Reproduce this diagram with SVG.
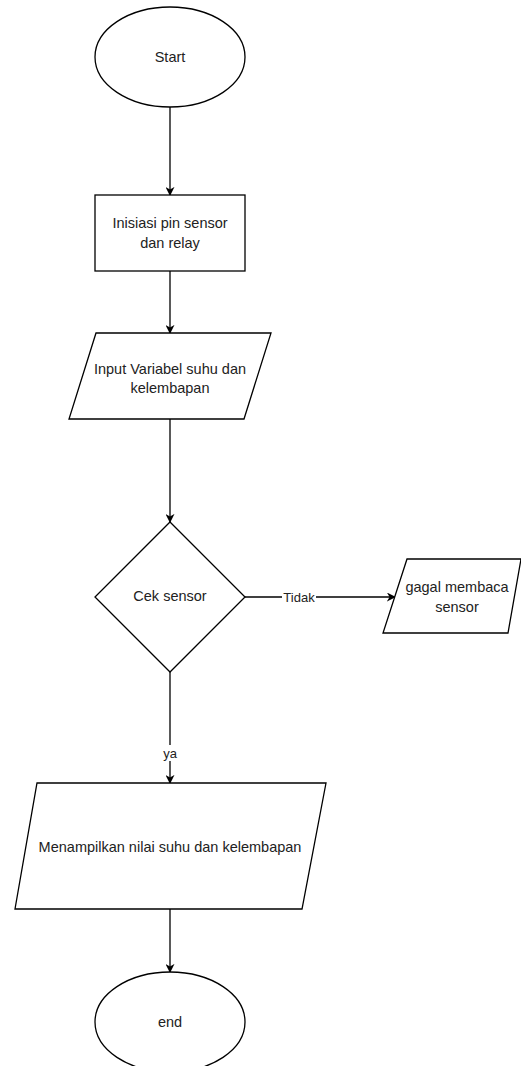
<svg xmlns="http://www.w3.org/2000/svg" width="521" height="1066" viewBox="0 0 521 1066">
<defs>
<marker id="arr" viewBox="0 0 10 10" refX="9" refY="5" markerWidth="9" markerHeight="9" markerUnits="userSpaceOnUse" orient="auto">
<path d="M0,0 L10,5 L0,10 L3,5 Z" fill="#000"/>
</marker>
<style>
.shape{fill:#fff;stroke:#000;stroke-width:1.3}
.t{font-family:"Liberation Sans",Arial,sans-serif;font-size:14.5px;fill:#222;text-anchor:middle;dominant-baseline:central}
.lbl{font-size:13px}
.edge{fill:none;stroke:#000;stroke-width:1.3;marker-end:url(#arr)}
</style>
</defs>
<rect width="521" height="1066" fill="#fff"/>
<g id="connectors">
<path class="edge" d="M170,107 L170,195"/>
<path class="edge" d="M170,271 L170,333"/>
<path class="edge" d="M170,419 L170,522"/>
<path class="edge" d="M245,597 L395,597"/>
<path class="edge" d="M170,672 L170,783"/>
<path class="edge" d="M170,909 L170,972"/>
<rect x="282" y="589" width="34" height="16" fill="#fff"/>
<text class="t lbl" x="299" y="597">Tidak</text>
<rect x="161" y="745" width="18" height="16" fill="#fff"/>
<text class="t lbl" x="170" y="753">ya</text>
</g>
<g id="start">
<ellipse class="shape" cx="170" cy="57" rx="75" ry="50"/>
<text class="t" x="170" y="57">Start</text>
</g>
<g id="init">
<rect class="shape" x="95" y="195" width="150" height="76"/>
<text class="t" x="170" y="223">Inisiasi pin sensor</text>
<text class="t" x="170" y="243">dan relay</text>
</g>
<g id="input">
<polygon class="shape" points="96,333 271,333 244,419 69,419"/>
<text class="t" x="170" y="369">Input Variabel suhu dan</text>
<text class="t" x="170" y="388">kelembapan</text>
</g>
<g id="cek">
<polygon class="shape" points="170,522 245,597 170,672 95,597"/>
<text class="t" x="170" y="596">Cek sensor</text>
</g>
<g id="gagal">
<polygon class="shape" points="407,559 521,559 508,633 383,633"/>
<text class="t" x="457" y="587">gagal membaca</text>
<text class="t" x="457" y="607">sensor</text>
</g>
<g id="tampil">
<polygon class="shape" points="37,783 326,783 302,909 15,909"/>
<text class="t" x="170" y="847">Menampilkan nilai suhu dan kelembapan</text>
</g>
<g id="end">
<ellipse class="shape" cx="170" cy="1022" rx="75" ry="50"/>
<text class="t" x="170" y="1022">end</text>
</g>
</svg>
